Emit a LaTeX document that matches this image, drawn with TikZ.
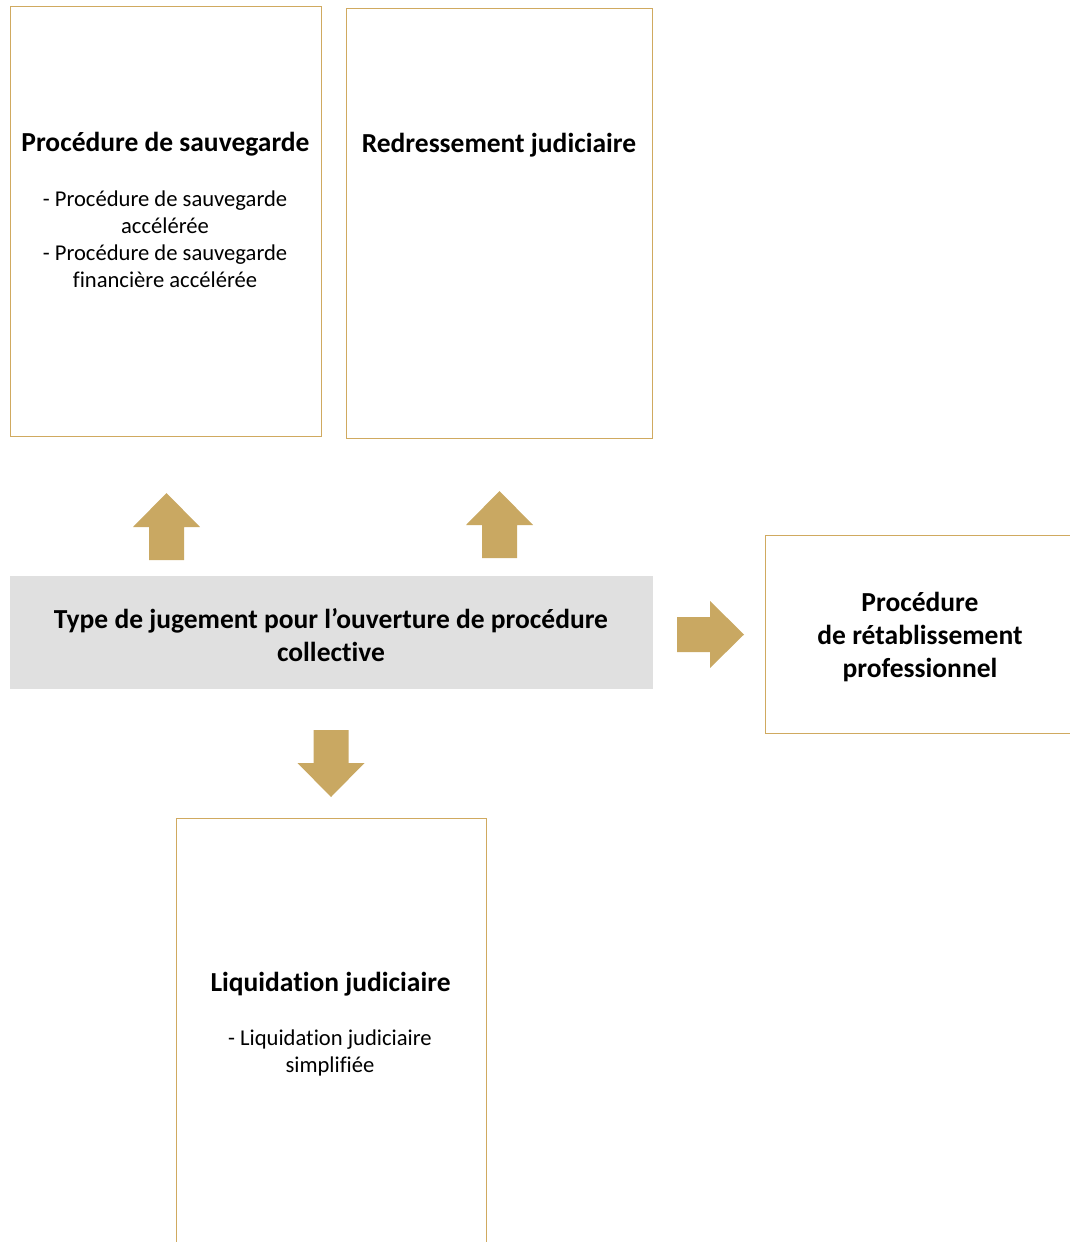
\documentclass[tikz,border=0pt]{standalone}
\usepackage{fontspec}
\setmainfont{Carlito}[Ligatures=NoCommon]
\usepackage{xcolor}
\usetikzlibrary{positioning}
\definecolor{goldline}{HTML}{D0AA60}
\definecolor{goldfill}{HTML}{C9A862}
\definecolor{greyfill}{HTML}{E0E0E0}
\tikzset{box/.style={draw=goldline,line width=1.2pt,fill=white,anchor=north west,inner sep=0pt},
  headbox/.style={fill=greyfill,anchor=north west,inner sep=0pt},
  title/.style={font=\bfseries\fontsize{27.5}{33}\selectfont,align=center,inner sep=0pt},
  subtext/.style={font=\fontsize{22.6}{27}\selectfont,align=center,inner sep=0pt},
  blockarrow/.pic={\fill[goldfill] (0,-17.5)--(33,-17.5)--(33,-33.5)--(67,0)--(33,33.5)--(33,17.5)--(0,17.5)--cycle;}}
\begin{document}
\begin{tikzpicture}[x=1pt,y=-1pt]
 \useasboundingbox (0,0) rectangle (1070,1242);
 \clip (0,0) rectangle (1070,1242);
 % boxes
 \node[box,minimum width=311pt,minimum height=430pt] (sauv) at (10,6) {};
 \node[box,minimum width=306pt,minimum height=430pt] (redr) at (346,8) {};
 \node[headbox,minimum width=643pt,minimum height=113pt] (type) at (10,576) {};
 \node[box,minimum width=330pt,minimum height=198pt] (reta) at (765,535) {};
 \node[box,minimum width=310pt,minimum height=460pt] (liqu) at (176,818) {};
 % texts
 \node[title] (sauvt) at (165.5,144) {Procédure de sauvegarde};
 \node[subtext] (sauvs) at (165,239.5) {- Procédure de sauvegarde\\accélérée\\- Procédure de sauvegarde\\financière accélérée};
 \node[title] (redrt) at (499,145) {Redressement judiciaire};
 \node[title] (typet) at (331,635.5) {Type de jugement pour l’ouverture de procédure\\collective};
 \node[title] (retat) at (920,637) {Procédure\\de rétablissement\\professionnel};
 \node[title] (liqut) at (330.5,984) {Liquidation judiciaire};
 \node[subtext] (liqus) at (330,1052.5) {- Liquidation judiciaire\\simplifiée};
 % arrows
 \pic[rotate=90] at (166.5,560) {blockarrow};
 \pic[rotate=90] at (499.5,558) {blockarrow};
 \pic at (677,634.5) {blockarrow};
 \pic[rotate=-90] at (331,730) {blockarrow};
\end{tikzpicture}
\end{document}
